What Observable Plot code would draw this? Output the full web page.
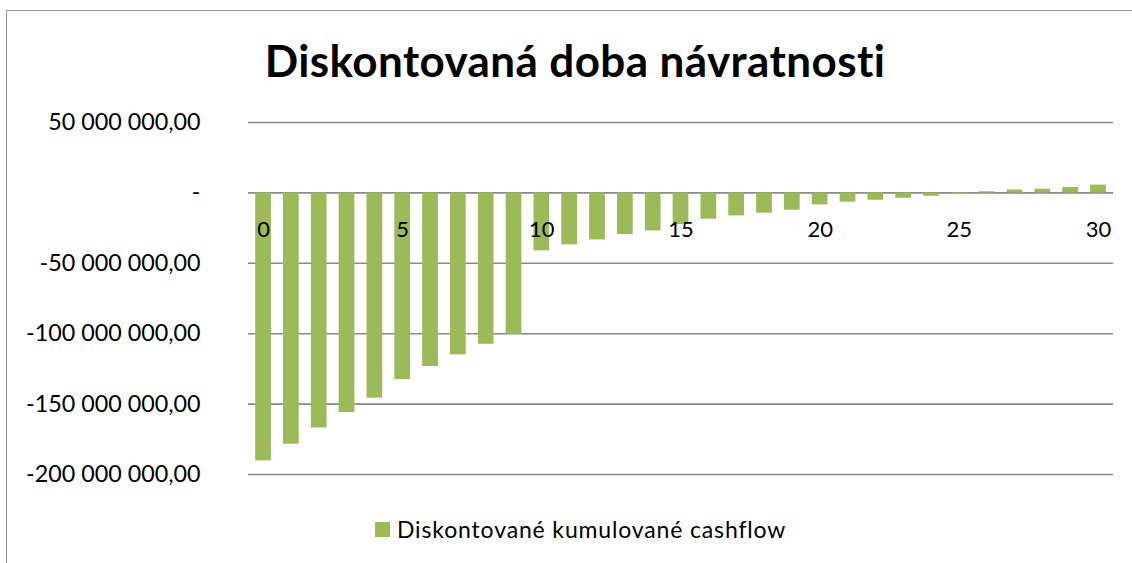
<!DOCTYPE html>
<html><head><meta charset="utf-8">
<script src="https://cdn.jsdelivr.net/npm/d3@7"></script>
<script src="https://cdn.jsdelivr.net/npm/@observablehq/plot@0.6"></script>
<style>
body{margin:0;background:#fff;font-family:Lato,sans-serif;color:#000;}
#wrap{position:relative;width:1132px;height:563px;overflow:hidden;background:#fff;}
#frame{position:absolute;left:6px;top:10px;width:1140px;height:600px;border-left:1.5px solid #9a9a9a;border-top:1.5px solid #9a9a9a;box-sizing:border-box;}
#chart{position:absolute;left:0;top:0;}
#title{position:absolute;top:33px;left:0;width:1150px;text-align:center;font-weight:bold;font-size:44px;letter-spacing:0.4px;line-height:54px;}
#legend{position:absolute;top:514px;left:375px;font-size:23px;letter-spacing:0.85px;line-height:30px;display:flex;align-items:center;}
#legend span.sw{display:inline-block;width:15px;height:15px;background:#9BBB59;margin-right:7px;}
</style>
</head><body>
<div id="wrap">
  <div id="frame"></div>
  <div id="chart"></div>
  <div id="title">Diskontovaná doba návratnosti</div>
  <div id="legend"><span class="sw"></span><span id="legendText"></span></div>
</div>
<script>
const seriesName = "Diskontované kumulované cashflow";
const years = [0,1,2,3,4,5,6,7,8,9,10,11,12,13,14,15,16,17,18,19,20,21,22,23,24,25,26,27,28,29,30];
const values = [-190300000,-178500000,-166900000,-156000000,-145800000,-132600000,-123300000,-115000000,-107500000,-100400000,
  -41200000,-36900000,-33400000,-29600000,-27000000,-22500000,-18700000,-16300000,-14400000,-12300000,
  -8500000,-6600000,-5200000,-3800000,-2400000,-400000,800000,2100000,2600000,3800000,5500000];
const yTicks = [50000000,0,-50000000,-100000000,-150000000,-200000000];
const xTickLabels = [0,5,10,15,20,25,30];

const data = years.map((y,i)=>({year:y, value:values[i]}));
const loc = d3.formatLocale({decimal:",", thousands:"\u00a0", grouping:[3], currency:["",""], minus:"-"});
const fmt = loc.format(",.2f");
const yFmt = v => v === 0 ? "-" : fmt(v);

const plot = Plot.plot({
  width: 1132,
  height: 563,
  marginLeft: 248,
  marginRight: 19,
  marginTop: 122,
  marginBottom: 89,
  style: {fontFamily: "Lato, sans-serif", fontSize: "22px", color: "#000", background: "transparent"},
  x: {type: "band", domain: years, paddingInner: 0.435, paddingOuter: 0.258, round: false, axis: null},
  y: {domain: [-200000000, 50000000], axis: null, label: null},
  marks: [
    Plot.gridY(yTicks, {stroke: "#8a8a8a", strokeOpacity: 1, strokeWidth: 1.6}),
    Plot.barY(data, {x: "year", y: "value", fill: "#9BBB59"}),
    Plot.axisY(yTicks, {tickFormat: yFmt, tickSize: 0, tickPadding: 48, fontSize: 23.3, fill: "#000", label: null}),
    Plot.text(xTickLabels, {x: d => d, y: 0, dy: 37, fontSize: 22, fill: "#000"})
  ]
});
document.getElementById("chart").appendChild(plot);
document.getElementById("legendText").textContent = seriesName;
</script>
</body></html>
